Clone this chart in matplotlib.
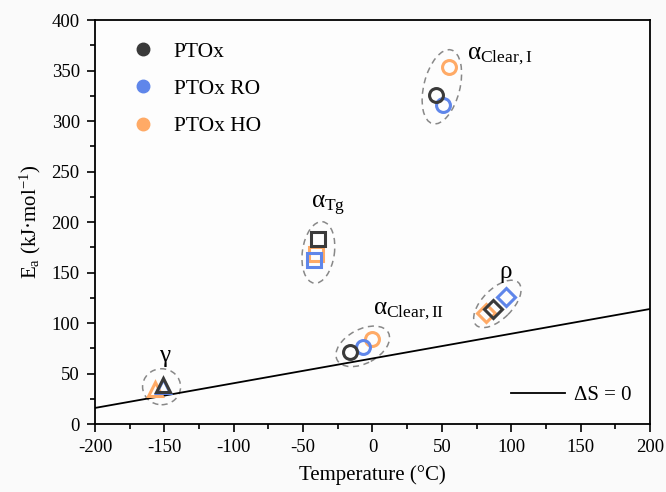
import matplotlib
matplotlib.use("Agg")
import matplotlib.pyplot as plt
from matplotlib.patches import Ellipse
from matplotlib.lines import Line2D
from matplotlib.transforms import ScaledTranslation

plt.rcParams["font.family"] = ["Liberation Serif", "DejaVu Serif"]
plt.rcParams["mathtext.fontset"] = "custom"
plt.rcParams["mathtext.rm"] = "Liberation Serif"
plt.rcParams["mathtext.it"] = "Liberation Serif:italic"
plt.rcParams["axes.unicode_minus"] = False

# data (temperature in degC, Ea in kJ/mol), order: gamma, alpha_Tg, alpha_ClearII, alpha_ClearI, rho
processes = ["gamma", "alpha_Tg", "alpha_ClearII", "alpha_ClearI", "rho"]
markers = ["^", "s", "o", "o", "D"]
T_ptox = [-151, -39, -16, 46, 87]
Ea_ptox = [39, 183, 71, 326, 114]
T_ro = [-151, -42, -7, 51, 96]
Ea_ro = [38, 163, 76, 316, 126]
T_ho = [-157, -41, 0, 55, 82]
Ea_ho = [35, 168, 84, 354, 110]

# delta S = 0 line
T_line = [-200, 200]
Ea_line = [16, 114]

names = ["PTOx", "PTOx RO", "PTOx HO"]
colors = ["#3a3a3a", "#5f86ea", "#ffaa66"]

fig = plt.figure(figsize=(6.66, 4.92), dpi=100)
fig.patch.set_facecolor("#fafafa")
ax = fig.add_axes([0.1426, 0.138, 0.976 - 0.1426, 0.959 - 0.138])
ax.set_facecolor("#fdfdfd")

ax.plot(T_line, Ea_line, color="black", lw=1.3, zorder=2)

# dashed ellipses around each process (center, major px, minor px, angle of major axis)
ell_cx = [-152, -39, -7, 50, 90]
ell_cy = [37, 170, 77, 334, 119]
ell_w = [38, 62, 58, 76, 60]
ell_h = [36, 32, 34, 36, 30]
ell_a = [0, 82, 28, 76, 45]
for cx, cy, w, h, a in zip(ell_cx, ell_cy, ell_w, ell_h, ell_a):
    e = Ellipse((0, 0), w / 100, h / 100, angle=a, fill=False,
                ls=(0, (4, 3)), lw=1.1, edgecolor="#888888",
                transform=fig.dpi_scale_trans + ScaledTranslation(cx, cy, ax.transData),
                zorder=1)
    ax.add_patch(e)

for T, E, c in [(T_ho, Ea_ho, colors[2]), (T_ro, Ea_ro, colors[1]), (T_ptox, Ea_ptox, colors[0])]:
    for t, ea, m in zip(T, E, markers):
        ms = 10 if m != "D" else 9
        ax.plot(t, ea, marker=m, ms=ms, mfc="none", mec=c, mew=2.2, ls="none", zorder=3)

fs_lab = 18
ax.text(68, 362, r"α$_{\mathrm{Clear,I}}$", fontsize=fs_lab, ha="left", va="baseline")
ax.text(0.5, 109, r"α$_{\mathrm{Clear,II}}$", fontsize=fs_lab, ha="left", va="baseline")
ax.text(-44, 214, r"α$_{\mathrm{Tg}}$", fontsize=fs_lab, ha="left", va="baseline")
ax.text(96, 145, "ρ", fontsize=fs_lab, ha="center", va="baseline")
ax.text(-150, 67, "γ", fontsize=fs_lab, ha="center", va="center")

ax.set_xlim(-200, 200)
ax.set_ylim(0, 400)
ax.set_xticks(range(-200, 201, 50))
ax.set_yticks(range(0, 401, 50))
ax.set_xticks(range(-175, 200, 50), minor=True)
ax.set_yticks(range(25, 400, 50), minor=True)
ax.tick_params(which="major", direction="out", length=6, width=1.2, labelsize=13.5, pad=5)
ax.tick_params(which="minor", direction="out", length=3.5, width=1.2)
for s in ax.spines.values():
    s.set_linewidth(1.3)

ax.set_xlabel("Temperature (°C)", fontsize=15, labelpad=6)
ax.set_ylabel(r"E$_{\mathrm{a}}$ (kJ·mol$^{\mathrm{-1}}$)", fontsize=15, labelpad=6)

handles = [Line2D([], [], marker="o", ls="none", ms=9, color=c) for c in colors]
leg1 = ax.legend(handles, names, loc="upper left", frameon=False, fontsize=15.5,
                 bbox_to_anchor=(0.012, 0.995), labelspacing=0.8, handletextpad=0.45)
ax.add_artist(leg1)
ax.legend([Line2D([], [], color="black", lw=1.3)], ["ΔS = 0"], loc="lower right",
          frameon=False, fontsize=15, bbox_to_anchor=(1.0, 0.0), handlelength=2.6,
          handletextpad=0.4)

fig.savefig("out.png", dpi=100, facecolor=fig.get_facecolor())
